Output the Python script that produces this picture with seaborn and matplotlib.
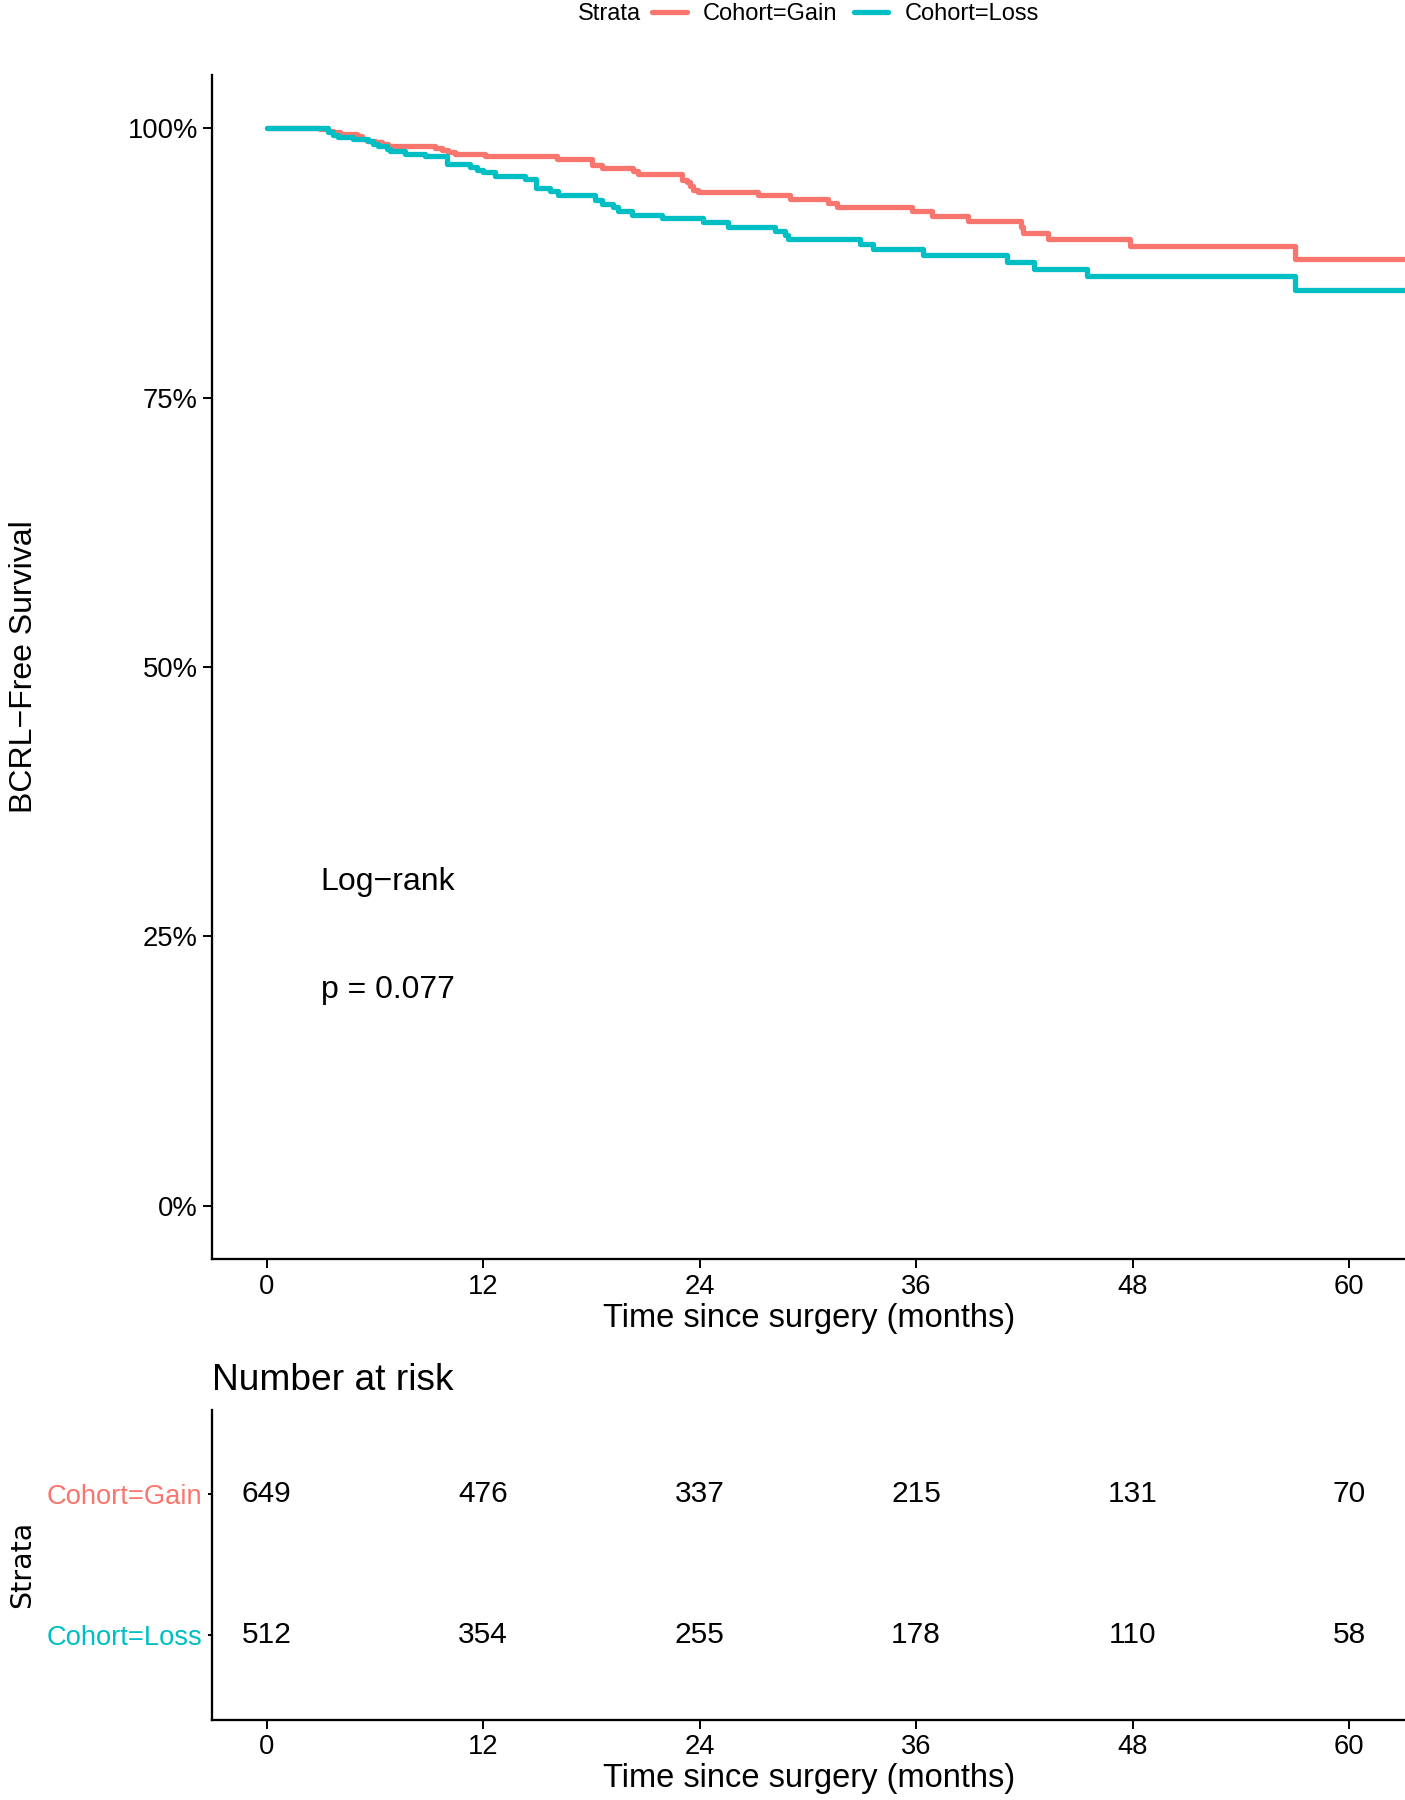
import matplotlib
matplotlib.use("Agg")
import matplotlib.pyplot as plt
from matplotlib.lines import Line2D
import numpy as np
import pandas as pd
import seaborn as sns

# ── Data ──────────────────────────────────────────────────────────────────────
gain_time = [0, 2.96, 3.42, 3.70, 4.07, 4.99, 5.27, 5.55, 6.01, 6.38, 6.75,
             9.33, 9.70, 10.07, 10.44, 12.11, 16.08, 18.02, 18.57, 20.33,
             20.6, 23.01, 23.29, 23.47, 23.65, 23.93, 27.26, 29.01, 31.14,
             31.6, 35.76, 36.87, 38.90, 41.8, 41.9, 43.3, 47.86, 57.0, 63.1]
gain_surv = [100, 99.9, 99.8, 99.7, 99.5, 99.25, 99.0, 98.85, 98.73, 98.57,
             98.38, 98.17, 98.01, 97.8, 97.64, 97.39, 97.15, 96.62, 96.31,
             96.0, 95.75, 95.23, 94.98, 94.61, 94.30, 94.14, 93.77, 93.43,
             93.06, 92.69, 92.35, 91.88, 91.36, 90.83, 90.28, 89.72, 89.04,
             87.89, 87.89]

loss_time = [0, 3.42, 3.66, 3.98, 4.81, 5.64, 5.92, 6.19, 6.66, 6.84, 7.67,
             8.78, 9.98, 11.27, 11.65, 12.01, 12.66, 14.32, 14.93, 15.71,
             16.17, 18.2, 18.57, 19.22, 19.5, 20.24, 21.9, 24.21, 25.6,
             28.18, 28.74, 28.92, 32.89, 33.63, 36.40, 41.05, 42.52, 45.5,
             57.0, 63.1]
loss_surv = [100, 99.62, 99.41, 99.19, 99.0, 98.79, 98.57, 98.38, 98.08,
             97.86, 97.64, 97.39, 96.68, 96.40, 96.16, 95.91, 95.60, 95.32,
             94.45, 94.21, 93.83, 93.37, 92.97, 92.66, 92.35, 91.98, 91.67,
             91.30, 90.89, 90.52, 90.12, 89.72, 89.25, 88.79, 88.26, 87.58,
             86.96, 86.25, 85.01, 85.01]

strata = ["Cohort=Gain", "Cohort=Loss"]
colors = ["#F8766D", "#00BFC4"]

risk_times = [0, 12, 24, 36, 48, 60]
risk_gain = [649, 476, 337, 215, 131, 70]
risk_loss = [512, 354, 255, 178, 110, 58]

y_ticks = [0, 25, 50, 75, 100]
y_labels = ["0%", "25%", "50%", "75%", "100%"]

# ── Style ─────────────────────────────────────────────────────────────────────
sns.set_theme(style="ticks")
plt.rcParams["font.family"] = ["Liberation Sans", "DejaVu Sans"]
plt.rcParams["axes.linewidth"] = 1.65
plt.rcParams["axes.edgecolor"] = "black"
plt.rcParams["xtick.major.width"] = 1.4
plt.rcParams["ytick.major.width"] = 1.4
plt.rcParams["xtick.major.size"] = 6.5
plt.rcParams["ytick.major.size"] = 6.5
plt.rcParams["xtick.color"] = "black"
plt.rcParams["ytick.color"] = "black"
plt.rcParams["text.color"] = "black"
plt.rcParams["axes.labelcolor"] = "black"

fig = plt.figure(figsize=(14.05, 18), dpi=100)
ax = fig.add_axes([0.1512, 0.3003, 1 - 0.1512, 0.9586 - 0.3003])
ax_r = fig.add_axes([0.1512, 0.0446, 1 - 0.1512, 0.2168 - 0.0446])

# ── Survival curves ───────────────────────────────────────────────────────────
df = pd.concat([
    pd.DataFrame({"time": gain_time, "surv": gain_surv, "strata": strata[0]}),
    pd.DataFrame({"time": loss_time, "surv": loss_surv, "strata": strata[1]}),
])
sns.lineplot(data=df, x="time", y="surv", hue="strata", hue_order=strata,
             palette=colors, estimator=None, drawstyle="steps-post",
             linewidth=3.8, legend=False, ax=ax)

ax.set_xlim(-3.0, 63.1)
ax.set_ylim(-5, 105)
ax.set_xticks(risk_times)
ax.set_yticks(y_ticks)
ax.set_yticklabels(y_labels)
ax.tick_params(labelsize=19.7, pad=4)
ax.set_xlabel("Time since surgery (months)", fontsize=23.5, labelpad=2)
ax.set_ylabel("BCRL\u2212Free Survival", fontsize=23, labelpad=64)
ax.text(3.0, 30, "Log\u2212rank", fontsize=23, va="center", ha="left")
ax.text(3.0, 20, "p = 0.077", fontsize=23, va="center", ha="left")
sns.despine(ax=ax)

# legend on top
handles = [Line2D([], [], color=c, lw=3.8) for c in colors]
fig.legend(handles, strata, loc="center", bbox_to_anchor=(0.602, 1 - 14 / 1800),
           ncol=2, frameon=False, fontsize=17, handlelength=1.45,
           handletextpad=0.7, columnspacing=0.7)
fig.text(641 / 1405, 1 - 14 / 1800, "Strata", fontsize=17, ha="right", va="center")

# ── Number at risk table ──────────────────────────────────────────────────────
for t, g, l in zip(risk_times, risk_gain, risk_loss):
    ax_r.text(t, 2, str(g), fontsize=21.5, ha="center", va="center")
    ax_r.text(t, 1, str(l), fontsize=21.5, ha="center", va="center")

ax_r.set_xlim(-3.0, 63.1)
ax_r.set_ylim(0.4, 2.6)
ax_r.set_xticks(risk_times)
ax_r.set_yticks([2, 1])
ax_r.set_yticklabels(strata)
for lab, c in zip(ax_r.get_yticklabels(), colors):
    lab.set_color(c)
ax_r.tick_params(labelsize=19.7, pad=4)
ax_r.tick_params(axis="y", length=3)
ax_r.set_xlabel("Time since surgery (months)", fontsize=23.5, labelpad=2)
ax_r.set_ylabel("Strata", fontsize=20.5, family="DejaVu Sans", labelpad=8)
ax_r.set_title("Number at risk", fontsize=26.7, loc="left", pad=14)
sns.despine(ax=ax_r)

fig.savefig("out.png", dpi=100)
